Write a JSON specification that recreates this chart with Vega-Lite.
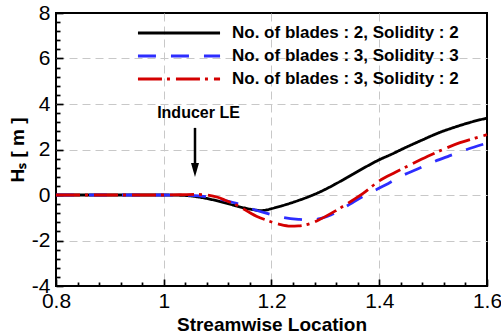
{
  "$schema": "https://vega.github.io/schema/vega-lite/v6.json",
  "autosize": "none",
  "width": 431,
  "height": 273,
  "padding": {"left": 56, "top": 13, "right": 14, "bottom": 47},
  "background": "white",
  "config": {
    "font": "Liberation Sans",
    "view": {"stroke": "black", "strokeWidth": 2},
    "legend": {
      "orient": "none",
      "legendX": 82,
      "legendY": 9,
      "symbolType": "M-4.32,0H4.32",
      "symbolSize": 361,
      "symbolStrokeWidth": 2.8,
      "symbolOffset": 30,
      "labelOffset": 42,
      "labelFont": "Liberation Sans",
      "labelFontWeight": "bold",
      "labelFontSize": 17,
      "labelColor": "black",
      "labelLimit": 400,
      "rowPadding": 4,
      "padding": 0
    }
  },
  "datasets": {
    "curves": [
      {"series": "No. of blades : 2, Solidity : 2", "x": 0.8, "y": 0},
      {"series": "No. of blades : 2, Solidity : 2", "x": 0.85, "y": 0},
      {"series": "No. of blades : 2, Solidity : 2", "x": 0.9, "y": 0},
      {"series": "No. of blades : 2, Solidity : 2", "x": 0.95, "y": 0},
      {"series": "No. of blades : 2, Solidity : 2", "x": 1.0, "y": 0},
      {"series": "No. of blades : 2, Solidity : 2", "x": 1.03, "y": -0.01},
      {"series": "No. of blades : 2, Solidity : 2", "x": 1.05, "y": -0.04},
      {"series": "No. of blades : 2, Solidity : 2", "x": 1.07, "y": -0.11},
      {"series": "No. of blades : 2, Solidity : 2", "x": 1.1, "y": -0.26},
      {"series": "No. of blades : 2, Solidity : 2", "x": 1.13, "y": -0.45},
      {"series": "No. of blades : 2, Solidity : 2", "x": 1.15, "y": -0.57},
      {"series": "No. of blades : 2, Solidity : 2", "x": 1.17, "y": -0.66},
      {"series": "No. of blades : 2, Solidity : 2", "x": 1.18, "y": -0.69},
      {"series": "No. of blades : 2, Solidity : 2", "x": 1.19, "y": -0.66},
      {"series": "No. of blades : 2, Solidity : 2", "x": 1.2, "y": -0.6},
      {"series": "No. of blades : 2, Solidity : 2", "x": 1.22, "y": -0.47},
      {"series": "No. of blades : 2, Solidity : 2", "x": 1.25, "y": -0.24},
      {"series": "No. of blades : 2, Solidity : 2", "x": 1.28, "y": 0.03},
      {"series": "No. of blades : 2, Solidity : 2", "x": 1.3, "y": 0.25},
      {"series": "No. of blades : 2, Solidity : 2", "x": 1.32, "y": 0.5},
      {"series": "No. of blades : 2, Solidity : 2", "x": 1.35, "y": 0.9},
      {"series": "No. of blades : 2, Solidity : 2", "x": 1.38, "y": 1.3},
      {"series": "No. of blades : 2, Solidity : 2", "x": 1.4, "y": 1.55},
      {"series": "No. of blades : 2, Solidity : 2", "x": 1.42, "y": 1.76},
      {"series": "No. of blades : 2, Solidity : 2", "x": 1.45, "y": 2.1},
      {"series": "No. of blades : 2, Solidity : 2", "x": 1.48, "y": 2.42},
      {"series": "No. of blades : 2, Solidity : 2", "x": 1.51, "y": 2.73},
      {"series": "No. of blades : 2, Solidity : 2", "x": 1.54, "y": 2.98},
      {"series": "No. of blades : 2, Solidity : 2", "x": 1.57, "y": 3.2},
      {"series": "No. of blades : 2, Solidity : 2", "x": 1.6, "y": 3.38},
      {"series": "No. of blades : 3, Solidity : 3", "x": 0.8, "y": 0},
      {"series": "No. of blades : 3, Solidity : 3", "x": 0.9, "y": 0},
      {"series": "No. of blades : 3, Solidity : 3", "x": 1.0, "y": 0},
      {"series": "No. of blades : 3, Solidity : 3", "x": 1.05, "y": -0.02},
      {"series": "No. of blades : 3, Solidity : 3", "x": 1.08, "y": -0.08},
      {"series": "No. of blades : 3, Solidity : 3", "x": 1.1, "y": -0.17},
      {"series": "No. of blades : 3, Solidity : 3", "x": 1.135, "y": -0.37},
      {"series": "No. of blades : 3, Solidity : 3", "x": 1.16, "y": -0.58},
      {"series": "No. of blades : 3, Solidity : 3", "x": 1.19, "y": -0.8},
      {"series": "No. of blades : 3, Solidity : 3", "x": 1.22, "y": -0.98},
      {"series": "No. of blades : 3, Solidity : 3", "x": 1.25, "y": -1.07},
      {"series": "No. of blades : 3, Solidity : 3", "x": 1.27, "y": -1.1},
      {"series": "No. of blades : 3, Solidity : 3", "x": 1.29, "y": -1.04},
      {"series": "No. of blades : 3, Solidity : 3", "x": 1.31, "y": -0.88},
      {"series": "No. of blades : 3, Solidity : 3", "x": 1.33, "y": -0.62},
      {"series": "No. of blades : 3, Solidity : 3", "x": 1.35, "y": -0.34},
      {"series": "No. of blades : 3, Solidity : 3", "x": 1.37, "y": -0.06},
      {"series": "No. of blades : 3, Solidity : 3", "x": 1.395, "y": 0.24},
      {"series": "No. of blades : 3, Solidity : 3", "x": 1.42, "y": 0.55},
      {"series": "No. of blades : 3, Solidity : 3", "x": 1.44, "y": 0.82},
      {"series": "No. of blades : 3, Solidity : 3", "x": 1.47, "y": 1.13},
      {"series": "No. of blades : 3, Solidity : 3", "x": 1.5, "y": 1.45},
      {"series": "No. of blades : 3, Solidity : 3", "x": 1.53, "y": 1.72},
      {"series": "No. of blades : 3, Solidity : 3", "x": 1.56, "y": 1.98},
      {"series": "No. of blades : 3, Solidity : 3", "x": 1.6, "y": 2.28},
      {"series": "No. of blades : 3, Solidity : 2", "x": 0.8, "y": 0},
      {"series": "No. of blades : 3, Solidity : 2", "x": 0.9, "y": 0},
      {"series": "No. of blades : 3, Solidity : 2", "x": 1.0, "y": 0},
      {"series": "No. of blades : 3, Solidity : 2", "x": 1.03, "y": 0.01},
      {"series": "No. of blades : 3, Solidity : 2", "x": 1.06, "y": 0.03},
      {"series": "No. of blades : 3, Solidity : 2", "x": 1.08, "y": 0.0},
      {"series": "No. of blades : 3, Solidity : 2", "x": 1.1, "y": -0.1},
      {"series": "No. of blades : 3, Solidity : 2", "x": 1.114, "y": -0.23},
      {"series": "No. of blades : 3, Solidity : 2", "x": 1.135, "y": -0.44},
      {"series": "No. of blades : 3, Solidity : 2", "x": 1.16, "y": -0.78},
      {"series": "No. of blades : 3, Solidity : 2", "x": 1.172, "y": -0.93},
      {"series": "No. of blades : 3, Solidity : 2", "x": 1.19, "y": -1.1},
      {"series": "No. of blades : 3, Solidity : 2", "x": 1.215, "y": -1.29},
      {"series": "No. of blades : 3, Solidity : 2", "x": 1.235, "y": -1.37},
      {"series": "No. of blades : 3, Solidity : 2", "x": 1.25, "y": -1.36},
      {"series": "No. of blades : 3, Solidity : 2", "x": 1.27, "y": -1.27},
      {"series": "No. of blades : 3, Solidity : 2", "x": 1.29, "y": -1.07},
      {"series": "No. of blades : 3, Solidity : 2", "x": 1.32, "y": -0.68},
      {"series": "No. of blades : 3, Solidity : 2", "x": 1.35, "y": -0.24},
      {"series": "No. of blades : 3, Solidity : 2", "x": 1.37, "y": 0.07},
      {"series": "No. of blades : 3, Solidity : 2", "x": 1.4, "y": 0.62},
      {"series": "No. of blades : 3, Solidity : 2", "x": 1.43, "y": 1.0},
      {"series": "No. of blades : 3, Solidity : 2", "x": 1.457, "y": 1.32},
      {"series": "No. of blades : 3, Solidity : 2", "x": 1.49, "y": 1.7},
      {"series": "No. of blades : 3, Solidity : 2", "x": 1.52, "y": 2.02},
      {"series": "No. of blades : 3, Solidity : 2", "x": 1.55, "y": 2.3},
      {"series": "No. of blades : 3, Solidity : 2", "x": 1.578, "y": 2.5},
      {"series": "No. of blades : 3, Solidity : 2", "x": 1.6, "y": 2.65}
    ],
    "arrow": [{"x": 1.058, "y": 2.95, "y2": 1.2}],
    "arrowhead": [{"x": 1.058, "y": 1.1}],
    "note": [{"x": 1.0645, "y": 3.38, "text": "Inducer LE"}]
  },
  "resolve": {"axis": {"x": "independent", "y": "independent"}},
  "layer": [
    {
      "data": {"name": "curves"},
      "mark": {"type": "line", "strokeWidth": 2.8, "interpolate": "monotone"},
      "encoding": {
        "x": {
          "field": "x", "type": "quantitative",
          "scale": {"domain": [0.8, 1.6], "nice": false, "zero": false},
          "axis": {
            "orient": "bottom",
            "offset": -7,
            "title": "Streamwise Location",
            "values": [0.8, 1, 1.2, 1.4, 1.6],
            "labelExpr": "'' + datum.value",
            "labelFlush": false,
            "labelOverlap": false,
            "labelFont": "Liberation Sans",
            "labelFontSize": 21,
            "labelColor": "black",
            "labelPadding": 4.5,
            "tickSize": 7,
            "tickColor": "black",
            "tickWidth": 1.7,
            "domain": false,
            "grid": false,
            "titleFont": "Liberation Sans",
            "titleFontSize": 19,
            "titleFontWeight": "bold",
            "titleColor": "black",
            "titleBaseline": "alphabetic",
            "titleY": 51
          }
        },
        "y": {
          "field": "y", "type": "quantitative",
          "scale": {"domain": [-4, 8], "nice": false, "zero": false},
          "axis": {
            "orient": "left",
            "offset": -7,
            "title": "Hₛ [ m ]",
            "values": [-4, -2, 0, 2, 4, 6, 8],
            "labelExpr": "'' + datum.value",
            "labelOverlap": false,
            "labelFlush": false,
            "labelFont": "Liberation Sans",
            "labelFontSize": 21,
            "labelColor": "black",
            "labelPadding": 6,
            "tickSize": 7,
            "tickColor": "black",
            "tickWidth": 1.7,
            "domain": false,
            "grid": false,
            "titleFont": "Liberation Sans",
            "titleFontSize": 19,
            "titleFontWeight": "bold",
            "titleColor": "black",
            "titleBaseline": "alphabetic",
            "titleX": -40
          }
        },
        "color": {
          "field": "series", "type": "nominal",
          "scale": {
            "domain": ["No. of blades : 2, Solidity : 2", "No. of blades : 3, Solidity : 3", "No. of blades : 3, Solidity : 2"],
            "range": ["#000000", "#2d2dff", "#d40000"]
          },
          "legend": {"title": null}
        },
        "strokeDash": {
          "field": "series", "type": "nominal",
          "scale": {
            "domain": ["No. of blades : 2, Solidity : 2", "No. of blades : 3, Solidity : 3", "No. of blades : 3, Solidity : 2"],
            "range": [[1, 0], [18, 15], [24, 5, 3, 6]]
          },
          "legend": {"title": null}
        }
      }
    },
    {
      "data": {"name": "arrow"},
      "mark": {"type": "rule", "strokeWidth": 2.5, "color": "black"},
      "encoding": {
        "x": {
          "field": "x", "type": "quantitative",
          "axis": {
            "orient": "bottom",
            "offset": -4,
            "title": null,
            "values": [0.84, 0.88, 0.92, 0.96, 1.04, 1.08, 1.12, 1.16, 1.24, 1.28, 1.32, 1.36, 1.44, 1.48, 1.52, 1.56],
            "labels": false,
            "grid": false,
            "domain": false,
            "tickSize": 4,
            "tickColor": "black",
            "tickWidth": 1.7
          }
        },
        "y": {
          "field": "y", "type": "quantitative",
          "axis": {
            "orient": "left",
            "offset": -4,
            "title": null,
            "values": [-3.6, -3.2, -2.8, -2.4, -1.6, -1.2, -0.8, -0.4, 0.4, 0.8, 1.2, 1.6, 2.4, 2.8, 3.2, 3.6, 4.4, 4.8, 5.2, 5.6, 6.4, 6.8, 7.2, 7.6],
            "labels": false,
            "grid": false,
            "domain": false,
            "tickSize": 4,
            "tickColor": "black",
            "tickWidth": 1.7
          }
        },
        "y2": {"field": "y2"}
      }
    },
    {
      "data": {"name": "arrowhead"},
      "mark": {"type": "point", "shape": "M-0.57,-1L0.57,-1L0,1Z", "filled": true, "size": 196, "color": "black", "opacity": 1},
      "encoding": {
        "x": {
          "field": "x", "type": "quantitative",
          "axis": {
            "orient": "bottom",
            "title": null,
            "values": [1, 1.2, 1.4],
            "labels": false,
            "ticks": false,
            "domain": false,
            "grid": true,
            "gridColor": "#c8c8c8",
            "gridDash": [8, 5],
            "gridWidth": 1
          }
        },
        "y": {
          "field": "y", "type": "quantitative",
          "axis": {
            "orient": "left",
            "title": null,
            "values": [-2, 0, 2, 4, 6],
            "labels": false,
            "ticks": false,
            "domain": false,
            "grid": true,
            "gridColor": "#c8c8c8",
            "gridDash": [8, 5],
            "gridWidth": 1
          }
        }
      }
    },
    {
      "data": {"name": "note"},
      "mark": {"type": "text", "font": "Liberation Sans", "fontWeight": "bold", "fontSize": 16, "align": "center", "baseline": "alphabetic", "color": "black"},
      "encoding": {
        "x": {"field": "x", "type": "quantitative", "axis": null},
        "y": {"field": "y", "type": "quantitative", "axis": null},
        "text": {"field": "text"}
      }
    }
  ]
}
